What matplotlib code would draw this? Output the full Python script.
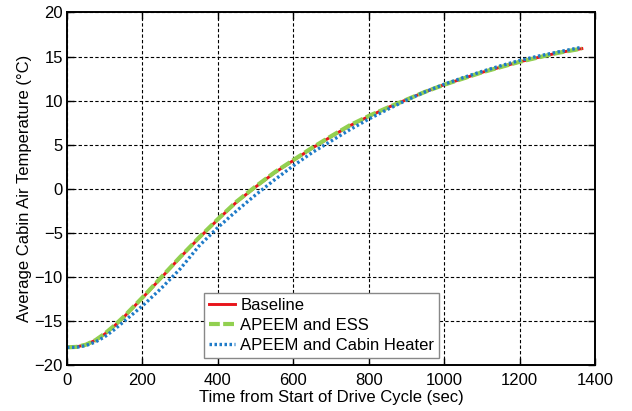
import matplotlib
matplotlib.use("Agg")
import matplotlib.pyplot as plt

plt.rcParams['font.family'] = ['Liberation Sans', 'DejaVu Sans']

# time after start of drive cycle (sec)
t = [0, 25, 50, 75, 100, 125, 150, 175, 200, 250, 300, 350, 400, 450, 500,
     550, 600, 650, 700, 750, 800, 850, 900, 950, 1000, 1050, 1100, 1150,
     1200, 1250, 1300, 1365]

# average cabin air temperature (deg C)
baseline = [-18.0, -17.95, -17.7, -17.2, -16.5, -15.6, -14.6, -13.5, -12.4,
            -10.1, -7.8, -5.6, -3.5, -1.5, 0.2, 1.8, 3.2, 4.6, 5.9, 7.15,
            8.2, 9.2, 10.1, 11.0, 11.8, 12.5, 13.2, 13.8, 14.4, 14.9, 15.4,
            15.9]
apeem_ess = [-18.0, -17.95, -17.7, -17.2, -16.45, -15.55, -14.55, -13.45,
             -12.35, -10.05, -7.75, -5.55, -3.45, -1.45, 0.25, 1.85, 3.25,
             4.65, 5.95, 7.2, 8.25, 9.2, 10.1, 11.0, 11.8, 12.5, 13.2, 13.8,
             14.4, 14.9, 15.4, 15.9]
apeem_heater = [-18.0, -18.0, -17.8, -17.4, -16.8, -16.0, -15.1, -14.2,
                -13.3, -11.3, -9.1, -6.5, -4.4, -2.5, -0.7, 1.0, 2.6, 4.1,
                5.4, 6.7, 7.9, 9.0, 10.05, 11.0, 11.85, 12.6, 13.3, 13.95,
                14.55, 15.05, 15.5, 16.05]

fig = plt.figure(figsize=(6.32, 4.11), dpi=100)
ax = fig.add_axes([0.106, 0.112, 0.8355, 0.8577])

ax.plot(t, baseline, color='#e8141b', lw=2.1, label='Baseline')
ax.plot(t, apeem_ess, color='#92d050', lw=3.0, dashes=(2.6, 0.8),
        label='APEEM and ESS')
ax.plot(t, apeem_heater, color='#1f7bc8', lw=2.4, dashes=(0.75, 0.75),
        label='APEEM and Cabin Heater')

ax.set_xlim(0, 1400)
ax.set_ylim(-20, 20)
ax.set_xticks(range(0, 1401, 200))
ax.set_yticks(range(-20, 21, 5))
ax.grid(True, color='black', linestyle=(0, (3, 2)), linewidth=0.8)
ax.tick_params(direction='in', top=True, right=True, labelsize=12,
               length=5, width=1)
ax.tick_params(axis='x', pad=6)
ax.tick_params(axis='y', pad=3)
for s in ax.spines.values():
    s.set_linewidth(1.4)

ax.set_xlabel('Time from Start of Drive Cycle (sec)', fontsize=12, labelpad=1)
ax.set_ylabel('Average Cabin Air Temperature (\u00b0C)', fontsize=12,
              labelpad=2)

leg = ax.legend(loc='lower left', bbox_to_anchor=(0.259, 0.02),
                fontsize=12, fancybox=False, framealpha=1,
                edgecolor='#888888', handlelength=1.6, handletextpad=0.3,
                labelspacing=0.3, borderpad=0.3, borderaxespad=0)
leg.get_frame().set_linewidth(1.0)

fig.savefig('out.png', dpi=100)
